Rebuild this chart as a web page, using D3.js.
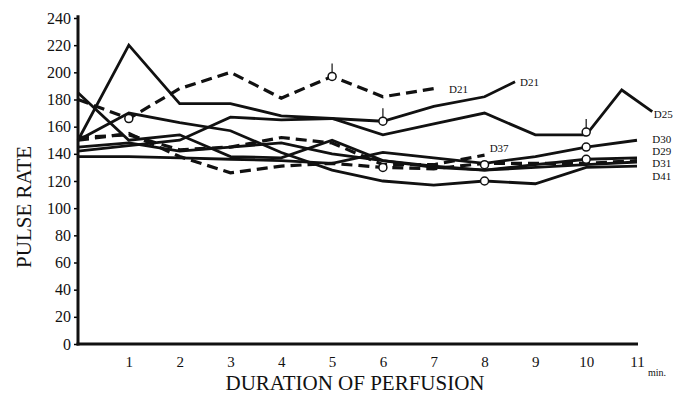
<!DOCTYPE html>
<html>
<head>
<meta charset="utf-8">
<script src="https://cdn.jsdelivr.net/npm/d3@7"></script>
<style>
  body { margin: 0; background: #fff; }
  text { font-family: "Liberation Serif", "DejaVu Serif", serif; fill: #111; }
</style>
</head>
<body>
<div id="graph"></div>
<script>
/* values */
const xTicks = [1, 2, 3, 4, 5, 6, 7, 8, 9, 10, 11];
const yTicks = [0, 20, 40, 60, 80, 100, 120, 140, 160, 180, 200, 220, 240];

const minutes = [0, 1, 2, 3, 4, 5, 6, 7, 8, 9, 10, 11];

const d21aMin = [0, 1, 2, 3, 4, 5, 6, 7];
const d21aRate = [180, 166, 188, 200, 181, 197, 182, 188];

const d21bMin = [0, 1, 2, 3, 4, 5, 6, 7, 8, 8.6];
const d21bRate = [150, 220, 177, 177, 168, 166, 164, 175, 182, 193];

const d25Min = [0, 1, 2, 3, 4, 5, 6, 7, 8, 9, 10, 10.7, 11.3];
const d25Rate = [142, 146, 150, 167, 165, 166, 154, 162, 170, 154, 154, 187, 171];

const d30Rate = [138, 138, 137, 136, 135, 133, 141, 137, 133, 138, 145, 150];
const d29Rate = [145, 148, 142, 145, 148, 140, 135, 131, 128, 132, 136, 137];
const d31Rate = [150, 155, 138, 126, 131, 133, 130, 129, 133, 133, 133, 135];
const d41Rate = [150, 170, 163, 157, 141, 128, 120, 117, 120, 118, 130, 131];
const extraRate = [185, 150, 154, 138, 137, 150, 135, 130, 128, 130, 132, 134];

const d37Min = [0, 1, 2, 3, 4, 5, 6, 7, 8];
const d37Rate = [152, 154, 143, 145, 152, 148, 132, 132, 139];

const markMin = [1, 5, 6, 6, 8, 8, 10, 10, 10];
const markRate = [166, 197, 164, 130, 132, 120, 156, 145, 136];
const arrowMin = [5, 6, 10];
const arrowRate = [197, 164, 156];

const series = [
  { name: "D21", x: d21aMin, y: d21aRate, dash: true, lx: 7.3, ly: 188 },
  { name: "D21", x: d21bMin, y: d21bRate, dash: false, lx: 8.7, ly: 193 },
  { name: "D25", x: d25Min, y: d25Rate, dash: false, lx: 11.33, ly: 169 },
  { name: "D30", x: minutes, y: d30Rate, dash: false, lx: 11.3, ly: 151 },
  { name: "D29", x: minutes, y: d29Rate, dash: false, lx: 11.3, ly: 142 },
  { name: "D31", x: minutes, y: d31Rate, dash: true, lx: 11.3, ly: 133 },
  { name: "D41", x: minutes, y: d41Rate, dash: false, lx: 11.3, ly: 124 },
  { name: "", x: minutes, y: extraRate, dash: false },
  { name: "D37", x: d37Min, y: d37Rate, dash: true, lx: 8.1, ly: 144 }
];

const W = 687, H = 402;
const svg = d3.select("#graph").append("svg").attr("width", W).attr("height", H);

const x = d3.scaleLinear().domain([0, 11]).range([78, 637]);
const y = d3.scaleLinear().domain([0, 240]).range([344, 18]);

// y axis
const yAxis = d3.axisLeft(y).tickValues(yTicks).tickSize(4).tickPadding(3);
const gy = svg.append("g").attr("transform", "translate(78,0)").call(yAxis);
gy.select(".domain").remove();
gy.selectAll("text").style("font-size", "16px");
gy.selectAll("line").attr("stroke-width", 1.5);
svg.append("line").attr("x1", 78).attr("x2", 78).attr("y1", y(242)).attr("y2", y(0) + 1.5)
  .attr("stroke", "#111").attr("stroke-width", 3);

// x axis
const xAxis = d3.axisBottom(x).tickValues(xTicks).tickSize(0).tickPadding(12);
const gx = svg.append("g").attr("transform", "translate(0," + y(0) + ")").call(xAxis);
gx.select(".domain").remove();
gx.selectAll("text").style("font-size", "15px");
svg.append("line").attr("x1", 76.5).attr("x2", x(11) + 1).attr("y1", y(0)).attr("y2", y(0))
  .attr("stroke", "#111").attr("stroke-width", 3);
svg.append("text").attr("x", x(11) + 11).attr("y", y(0) + 32).style("font-size", "10px").text("min.");

// axis titles
svg.append("text").attr("x", 355).attr("y", 390).attr("text-anchor", "middle")
  .style("font-size", "21px").text("DURATION OF PERFUSION");
svg.append("text").attr("transform", "translate(31,207) rotate(-90)").attr("text-anchor", "middle")
  .style("font-size", "21px").text("PULSE RATE");

// lines
const line = d3.line().x(d => x(d[0])).y(d => y(d[1]));
series.forEach(s => {
  const pts = s.x.map((m, i) => [m, s.y[i]]);
  svg.append("path").attr("d", line(pts)).attr("fill", "none")
    .attr("stroke", "#111")
    .attr("stroke-width", s.dash ? 3.2 : 2.8)
    .attr("stroke-dasharray", s.dash ? "11,6" : null)
    .attr("stroke-linejoin", "miter");
  if (s.name) {
    svg.append("text").attr("x", x(s.lx)).attr("y", y(s.ly) + 4)
      .style("font-size", "11px").text(s.name);
  }
});

// arrows and circles
arrowMin.forEach((m, i) => {
  svg.append("line").attr("x1", x(m)).attr("x2", x(m))
    .attr("y1", y(arrowRate[i]) - 4).attr("y2", y(arrowRate[i]) - 13)
    .attr("stroke", "#111").attr("stroke-width", 1.2);
});
markMin.forEach((m, i) => {
  svg.append("circle").attr("cx", x(m)).attr("cy", y(markRate[i])).attr("r", 4)
    .attr("fill", "#fff").attr("stroke", "#111").attr("stroke-width", 1.5);
});
</script>
</body>
</html>
